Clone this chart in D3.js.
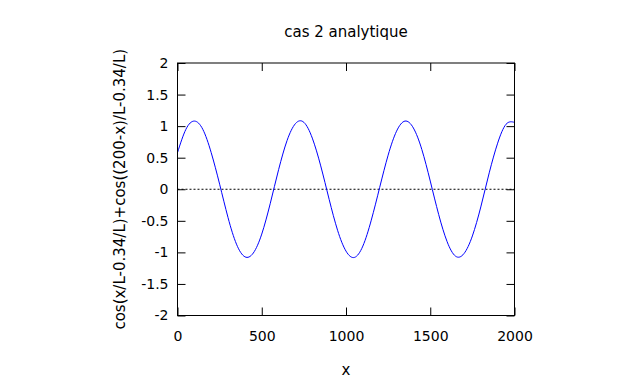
<!DOCTYPE html>
<html>
<head>
<meta charset="utf-8">
<script src="https://cdn.jsdelivr.net/npm/d3@7"></script>
<style>
  body { margin: 0; background: #fff; }
  text { font-family: "DejaVu Sans", sans-serif; font-size: 15px; fill: #000; }
</style>
</head>
<body>
<div id="plot"></div>
<script>
// set svg dimensions and margins
const svgWidth = 640;
const svgHeight = 384;
const margin = {top: 63, right: 125.5, bottom: 68.5, left: 177.5};
const width = svgWidth - margin.left - margin.right;
const height = svgHeight - margin.top - margin.bottom;

// values
const xs = [0, 50, 100, 150, 200, 250, 300, 350, 400, 450, 500, 550, 600, 650, 700,
  750, 800, 850, 900, 950, 1000, 1050, 1100, 1150, 1200, 1250, 1300, 1350, 1400,
  1450, 1500, 1550, 1600, 1650, 1700, 1750, 1800, 1850, 1900, 1950, 2000];
const ys = [0.58, 0.95, 1.08, 0.95, 0.58, 0.08, -0.45, -0.87, -1.07, -1.01, -0.71,
  -0.23, 0.31, 0.77, 1.04, 1.06, 0.81, 0.37, -0.16, -0.65, -0.98, -1.08, -0.90,
  -0.49, 0.03, 0.54, 0.92, 1.08, 0.97, 0.63, 0.13, -0.40, -0.83, -1.06, -1.02,
  -0.74, -0.28, 0.26, 0.73, 1.03, 1.06];
const xTicks = [0, 500, 1000, 1500, 2000];
const yTicks = [-2, -1.5, -1, -0.5, 0, 0.5, 1, 1.5, 2];
const title = "cas 2 analytique";
const xLabel = "x";
const yLabel = "cos(x/L-0.34/L)+cos((200-x)/L-0.34/L)";

const data = xs.map(function(x, i) { return {x: x, y: ys[i]}; });

let svg = d3.select("#plot")
  .append("svg")
  .attr("width", svgWidth)
  .attr("height", svgHeight);

let g = svg.append("g")
  .attr("transform", "translate(" + margin.left + "," + margin.top + ")");

var xScale = d3.scaleLinear().domain([0, 2000]).range([0, width]);
var yScale = d3.scaleLinear().domain([-2, 2]).range([height, 0]);

// zero line (dotted)
g.append("line")
  .attr("x1", 0).attr("x2", width)
  .attr("y1", yScale(0)).attr("y2", yScale(0))
  .attr("stroke", "#000")
  .attr("stroke-width", 1)
  .attr("stroke-dasharray", "2,2");

// the curve
g.append("path")
  .datum(data)
  .attr("fill", "none")
  .attr("stroke", "#0000ff")
  .attr("stroke-width", 1)
  .attr("d", d3.line()
    .curve(d3.curveNatural)
    .x(function(d) { return xScale(d.x); })
    .y(function(d) { return yScale(d.y); }));

// axes, gnuplot style: ticks inside, mirrored
const tl = 8;
g.append("g")
  .attr("transform", "translate(0," + height + ")")
  .call(d3.axisBottom(xScale).tickValues(xTicks).tickSize(-tl).tickPadding(16)
    .tickSizeOuter(0).tickFormat(d3.format("d")));
g.append("g")
  .call(d3.axisTop(xScale).tickValues(xTicks).tickSize(-tl).tickFormat("").tickSizeOuter(0));
g.append("g")
  .call(d3.axisLeft(yScale).tickValues(yTicks).tickSize(-tl).tickPadding(9).tickSizeOuter(0)
    .tickFormat(function(d) { return String(d); }));
g.append("g")
  .attr("transform", "translate(" + width + ",0)")
  .call(d3.axisRight(yScale).tickValues(yTicks).tickSize(-tl).tickFormat("").tickSizeOuter(0));

svg.selectAll(".tick text")
  .style("font-family", "DejaVu Sans, sans-serif")
  .style("font-size", "14px")
  .attr("fill", "#000");
svg.selectAll(".domain").remove();

// frame
g.append("rect")
  .attr("width", width).attr("height", height)
  .attr("fill", "none").attr("stroke", "#000").attr("stroke-width", 1);

// labels
svg.append("text")
  .attr("x", margin.left + width / 2)
  .attr("y", 37)
  .attr("text-anchor", "middle")
  .text(title);

svg.append("text")
  .attr("x", margin.left + width / 2)
  .attr("y", 375)
  .attr("text-anchor", "middle")
  .text(xLabel);

svg.append("text")
  .attr("transform", "translate(125," + (margin.top + height / 2) + ") rotate(-90)")
  .attr("text-anchor", "middle")
  .text(yLabel);
</script>
</body>
</html>
